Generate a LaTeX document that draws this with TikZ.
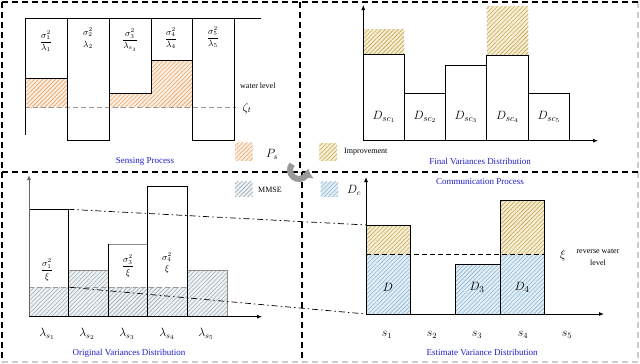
\documentclass[tikz,border=0pt]{standalone}
\usepackage{amsmath}
\usepackage{fontspec}
\setmainfont{Liberation Serif}
\usetikzlibrary{patterns.meta,arrows.meta}
\definecolor{oBg}{RGB}{252,238,224}
\definecolor{oLn}{RGB}{232,162,104}
\definecolor{tBg}{RGB}{246,238,210}
\definecolor{tLn}{RGB}{196,168,90}
\definecolor{bBg}{RGB}{222,238,248}
\definecolor{bLn}{RGB}{150,180,200}
\definecolor{gBg}{RGB}{238,242,244}
\definecolor{gLn}{RGB}{158,172,180}
\definecolor{capblue}{RGB}{30,30,200}
\tikzset{
  frame/.style={line width=1.1pt, dash pattern=on 6pt off 4pt},
  framelight/.style={line width=1.1pt, dash pattern=on 6pt off 4pt, black!20},
  barline/.style={draw=black, line width=0.8pt},
  hatchO/.style={fill=oBg, postaction={pattern={Lines[angle=45,distance=3pt,line width=0.6pt]}, pattern color=oLn}},
  hatchT/.style={fill=tBg, postaction={pattern={Lines[angle=45,distance=3pt,line width=0.6pt]}, pattern color=tLn}},
  hatchB/.style={fill=bBg, postaction={pattern={Lines[angle=45,distance=3pt,line width=0.6pt]}, pattern color=bLn}},
  hatchG/.style={fill=gBg, postaction={pattern={Lines[angle=45,distance=3pt,line width=0.6pt]}, pattern color=gLn}},
  axis/.style={line width=0.8pt, -{Latex[length=5pt,width=4pt]}},
  caption/.style={text=capblue, font=\fontsize{9}{10}\selectfont, inner sep=0pt},
  small/.style={font=\fontsize{8}{9}\selectfont, inner sep=0pt},
  frac/.style={font=\fontsize{9}{10}\selectfont, inner sep=0pt},
  biglab/.style={font=\fontsize{13}{14}\selectfont, inner sep=0pt},
  midlab/.style={font=\fontsize{11.5}{12}\selectfont, inner sep=0pt},
  dashdot/.style={line width=0.7pt, dash pattern=on 6pt off 3pt on 1.5pt off 3pt},
  levelgray/.style={line width=0.8pt, black!40, dash pattern=on 5pt off 3pt},
  levelblack/.style={line width=0.8pt, dash pattern=on 5pt off 3pt},
}
\newcommand{\vfr}[2]{\dfrac{#1\rule[-1.5pt]{0pt}{0pt}}{\rule{0pt}{7.5pt}#2}}
\newcommand{\vst}[2]{\genfrac{}{}{0pt}{0}{#1\rule[-1.5pt]{0pt}{0pt}}{\rule{0pt}{7.5pt}#2}}
\begin{document}
\begin{tikzpicture}[x=1pt,y=-1pt]
\useasboundingbox (0,0) rectangle (640,364);
% ---------- frame ----------
\draw[framelight] (638,2) -- (638,362);
\draw[framelight] (2,362) -- (638,362);
\draw[frame] (2,2) -- (638,2);
\draw[frame] (2,2) -- (2,362);
\draw[frame] (2,172) -- (638,172);
\draw[frame] (300,2) -- (300,172);
\draw[frame] (302,172) -- (302,362);

% ---------- Sensing process (top left) ----------
\fill[hatchO] (25,78.7) rectangle (67.7,107.3);
\fill[hatchO] (109.3,93.3) rectangle (151,107.3);
\fill[hatchO] (151,60.7) rectangle (192.3,107.3);
\draw[levelgray] (25,107.3) -- (236,107.3);
\draw[barline] (25,18) -- (261,18);
\draw[barline] (25,18) -- (25,135);
\draw[barline] (25,78.7) -- (67.7,78.7);
\draw[barline] (67.7,18) rectangle (109.3,140);
\draw[barline] (109.3,18) rectangle (151,93.3);
\draw[barline] (151,18) rectangle (192.3,60.7);
\draw[barline] (192.3,18) rectangle (234.7,140);
\node[frac] (f1) at (46,41) {$\vfr{\sigma_1^2}{\lambda_1}$};
\node[frac] (f2) at (88,38) {$\vst{\sigma_2^2}{\lambda_2}$};
\node[frac] (f3) at (130,40) {$\vfr{\sigma_3^2}{\lambda_{s_3}}$};
\node[frac] (f4) at (171,38) {$\vfr{\sigma_4^2}{\lambda_4}$};
\node[frac] (f5) at (213,37) {$\vfr{\sigma_5^2}{\lambda_5}$};
\node[small, anchor=west] (wl) at (240,86) {water level};
\node[midlab] (zeta) at (247,108) {$\zeta_t$};
\node[caption] (cap1) at (145,161) {Sensing Process};

% ---------- Final variances (top right) ----------
\fill[hatchT] (363.3,29) rectangle (404.3,54.7);
\fill[hatchT] (486.7,6) rectangle (528.3,55.3);
\draw[barline] (363.3,54.7) rectangle (404.3,140.7);
\draw[barline] (404.3,93.3) rectangle (445.3,140.7);
\draw[barline] (445.3,65.3) rectangle (486.7,140.7);
\draw[barline] (486.7,55.3) rectangle (528.3,140.7);
\draw[barline] (528.3,93.3) rectangle (569.3,140.7);
\coordinate (o2) at (363.3,140.7);
\coordinate (y2) at (363.3,5);
\coordinate (x2) at (598,140.7);
\draw[axis] (o2) -- (y2);
\draw[axis] (o2) -- (x2);
\node[biglab] (d1) at (384,117) {$D_{sc_1}$};
\node[biglab] (d2) at (425,117) {$D_{sc_2}$};
\node[biglab] (d3) at (466,117) {$D_{sc_3}$};
\node[biglab] (d4) at (507.5,117) {$D_{sc_4}$};
\node[biglab] (d5) at (549,117) {$D_{sc_5}$};
\node[caption] (cap2) at (480,161) {Final Variances Distribution};

% ---------- legends ----------
\fill[hatchO] (235,142.7) rectangle (252.7,160.7);
\node[midlab] (ps) at (272,154) {$P_s$};
\fill[hatchT] (319.3,143.3) rectangle (337.3,160.7);
\node[small, anchor=west] (imp) at (344,152) {Improvement};
\fill[hatchG] (235,181.7) rectangle (252.7,196.7);
\node[small, anchor=west] (mmse) at (258,190) {MMSE};
\fill[hatchB] (320.7,181.7) rectangle (338.3,196.7);
\node[midlab] (dc) at (354,190) {$D_c$};

% ---------- cycle arrow ----------
\draw[line width=6pt, black!40, -{Triangle[length=7pt,width=12pt]}] (299,170) ++(220:9) arc[start angle=220, end angle=5, radius=9];

% ---------- Original variances (bottom left) ----------
\fill[hatchG] (29,287.3) rectangle (68.3,316.7);
\fill[hatchG] (68.3,270.7) rectangle (108,316.7);
\fill[hatchG] (108,287.3) rectangle (147.3,316.7);
\fill[hatchG] (147.3,287.3) rectangle (187.3,316.7);
\fill[hatchG] (187.3,270) rectangle (227,316.7);
\draw[levelgray] (29,287.3) -- (187.3,287.3);
\draw[line width=0.8pt, black!45] (68.3,270.7) -- (108,270.7);
\draw[line width=0.8pt, black!45] (187.3,270) -- (227,270) -- (227,316.7);
\draw[barline] (29,209.3) -- (68.3,209.3) -- (68.3,316.7);
\draw[line width=0.8pt, black!45] (108,244) -- (147.3,244);
\draw[barline] (108,244) -- (108,316.7);
\draw[barline] (147.3,186.7) rectangle (187.3,316.7);
\coordinate (o3) at (29,316.7);
\coordinate (y3) at (29,175);
\coordinate (x3) at (262,316.7);
\draw[axis, black!60] (o3) -- (y3);
\draw[axis] (o3) -- (x3);
\node[frac] (g1) at (47,270) {$\vfr{\sigma_1^2}{\xi}$};
\node[frac] (g3) at (128,266) {$\vfr{\sigma_3^2}{\xi}$};
\node[frac] (g4) at (167,263) {$\vst{\sigma_4^2}{\xi}$};
\node[midlab] (l1) at (47,334) {$\lambda_{s_1}$};
\node[midlab] (l2) at (87,334) {$\lambda_{s_2}$};
\node[midlab] (l3) at (127,334) {$\lambda_{s_3}$};
\node[midlab] (l4) at (167,334) {$\lambda_{s_4}$};
\node[midlab] (l5) at (206,334) {$\lambda_{s_5}$};
\node[caption] (cap3) at (129,353) {Original Variances Distribution};

% ---------- Estimate variance (bottom right) ----------
\fill[hatchT] (366,225) rectangle (410.7,254.7);
\fill[hatchB] (366,254.7) rectangle (410.7,314);
\fill[hatchB] (455,264.3) rectangle (500,314);
\fill[hatchT] (500,200) rectangle (544.3,254.7);
\fill[hatchB] (500,254.7) rectangle (544.3,314);
\draw[barline] (366,225) rectangle (410.7,314);
\draw[barline] (455,264.3) rectangle (500,314);
\draw[barline] (500,200) rectangle (544.3,314);
\draw[levelblack] (366,254.7) -- (544.3,254.7);
\coordinate (o4) at (366,314);
\coordinate (y4) at (366,177);
\coordinate (x4) at (604,314);
\draw[axis] (o4) -- (y4);
\draw[axis] (o4) -- (x4);
\node[biglab] (e1) at (388,287) {$D$};
\node[biglab] (e3) at (477,287) {$D_3$};
\node[biglab] (e4) at (522,287) {$D_4$};
\node[midlab] (xi) at (563,255) {$\xi$};
\node[small] (rw1) at (598,251.5) {reverse water};
\node[small] (rw2) at (598,263) {level};
\node[midlab] (s1) at (387,335) {$s_1$};
\node[midlab] (s2) at (432,335) {$s_2$};
\node[midlab] (s3) at (477,335) {$s_3$};
\node[midlab] (s4) at (523,335) {$s_4$};
\node[midlab] (s5) at (567,335) {$s_5$};
\node[caption] (cap4) at (482,352) {Estimate Variance Distribution};
\node[caption] (cap5) at (480,182) {Communication Process};

% ---------- projection lines ----------
\coordinate (b1top) at (68.3,209.3);
\coordinate (s1top) at (366,225);
\coordinate (b1mid) at (70,287.3);
\coordinate (s1bot) at (366,314);
\draw[dashdot] (b1top) -- (s1top);
\draw[dashdot] (b1mid) -- (s1bot);
\end{tikzpicture}
\end{document}
